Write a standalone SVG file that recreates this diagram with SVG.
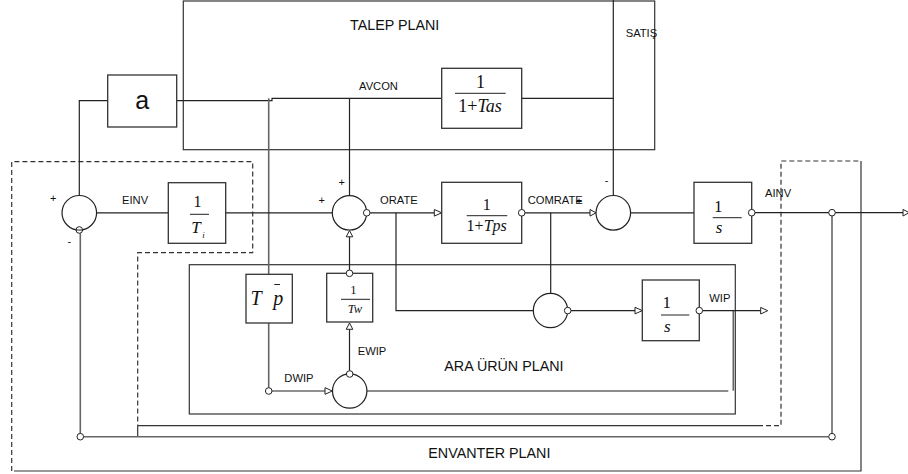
<svg xmlns="http://www.w3.org/2000/svg" width="908" height="474" viewBox="0 0 908 474">
<style>
.ln{fill:none;stroke:#222;stroke-width:1.2}
.gl{fill:none;stroke:#666;stroke-width:1.6}
.sl{fill:none;stroke:#333;stroke-width:1.2}
.dash{fill:none;stroke:#333;stroke-width:1.2;stroke-dasharray:5,3}
.box{fill:#fff;stroke:#333;stroke-width:1.3}
.sum{fill:#fff;stroke:#222;stroke-width:1.2}
.port{fill:#fff;stroke:#222;stroke-width:1}
.tri{fill:#fff;stroke:#222;stroke-width:1}
.frac{stroke:#222;stroke-width:1}
.lbl{font-family:"Liberation Sans",Arial,sans-serif;font-size:11.2px;fill:#111}
.sgn{font-family:"Liberation Sans",Arial,sans-serif;font-size:11px;fill:#111;text-anchor:middle}
.title{font-family:"Liberation Sans",Arial,sans-serif;font-size:14.3px;fill:#111}
.math{font-family:"Liberation Serif","Times New Roman",serif;fill:#111;text-anchor:middle}
.it{font-style:italic}
</style>

<g id="regions">
  <rect id="talep-plani" class="sl" x="183.3" y="1" width="471.4" height="148.7"/>
  <rect id="ara-urun-plani" class="sl" x="189.3" y="264.7" width="546" height="149.3"/>
  <g id="envanter-plani">
    <path class="dash" d="M11.7 471 V161.7 H252.7 V252.7 H137.7 V425.7"/>
    <path class="sl" d="M137.7 425.7 V436.7 M137.7 425.7 H758"/>
    <path class="dash" d="M758 425.7 H781 V161 H861"/>
    <path class="sl" d="M861 161 V471 H14"/>
  </g>
</g>

<g id="connectors">
  <path class="ln" d="M107.7 100.7 H79.3 V195.3"/>
  <path class="ln" d="M176.7 100.7 H272 V98.3 H441.7"/>
  <path class="ln" d="M521.7 98.3 H613.3"/>
  <path class="ln" d="M613.3 0 V195.3"/>
  <path class="ln" d="M349.5 98.3 V195.5"/>
  <path class="gl" d="M268.7 98.3 V274.3 M268.7 323 V387.7"/>
  <path class="ln" d="M96.7 212.8 H168.3"/>
  <path class="ln" d="M225.7 212.8 H332.3"/>
  <path class="ln" d="M370 212.8 H434.3"/>
  <path class="ln" d="M396 212.8 V310.6 H533.3"/>
  <path class="ln" d="M525 212.8 H590"/>
  <path class="ln" d="M550.7 212.8 V293.3"/>
  <path class="ln" d="M630.6 212.8 H694"/>
  <path class="ln" d="M755 212.7 H903"/>
  <path class="gl" d="M832 216 V433.3 M828.7 436.7 H83.6 M80.3 433.4 V233.3"/>
  <path class="ln" d="M349.5 236.8 V270"/>
  <path class="ln" d="M349.5 329.3 V370.7"/>
  <path class="ln" d="M272 391 H325"/>
  <path class="gl" d="M366.9 391 H728.3"/>
  <path class="gl" d="M733.3 310.7 V390.7"/>
  <path class="ln" d="M571 310.6 H635"/>
  <path class="ln" d="M702.6 310.6 H760.7"/>
  <polygon class="tri" points="434.3,209.5 441.7,212.8 434.3,216.1"/>
  <polygon class="tri" points="590,209.5 596,212.8 590,216.1"/>
  <polygon class="tri" points="635,307.3 642.3,310.6 635,313.9"/>
  <polygon class="tri" points="325,387.7 332.3,391 325,394.3"/>
  <polygon class="tri" points="760.7,307.4 767.7,310.7 760.7,314"/>
  <polygon class="tri" points="903,209.4 909,212.7 903,216"/>
  <polygon class="tri" points="346.2,236.8 349.5,230.5 352.8,236.8"/>
  <polygon class="tri" points="346.2,329.3 349.5,323 352.8,329.3"/>
  <circle class="port" cx="832" cy="212.7" r="3.3"/>
  <circle class="port" cx="832" cy="436.7" r="3.3"/>
  <circle class="port" cx="80.3" cy="436.7" r="3.3"/>
  <circle class="port" cx="268.7" cy="391" r="3.3"/>
</g>

<g id="sum-einv">
  <circle class="sum" cx="79.3" cy="212.8" r="17.3"/>
  <circle class="port" cx="79.3" cy="230" r="3.3"/>
  <line class="frac" x1="76" y1="230" x2="82.6" y2="230"/>
  <text class="sgn" x="53.3" y="201.5">+</text>
  <text class="sgn" x="69.3" y="245">-</text>
</g>
<g id="block-a">
  <rect class="box" x="107.7" y="75" width="69" height="52"/>
  <text class="lbl" x="142.3" y="109" style="font-size:25px" text-anchor="middle">a</text>
</g>
<g id="block-tas">
  <rect class="box" x="441.7" y="68.3" width="80" height="60"/>
  <text class="math" x="480.5" y="87.5" font-size="18">1</text>
  <line class="frac" x1="455" y1="93.3" x2="505.7" y2="93.3"/>
  <text class="math" x="480" y="112" font-size="18">1+<tspan class="it">Tas</tspan></text>
</g>
<g id="block-ti">
  <rect class="box" x="168.3" y="182.7" width="57.4" height="60.6"/>
  <text class="math" x="197.5" y="207" font-size="16">1</text>
  <line class="frac" x1="190" y1="214.3" x2="209" y2="214.3"/>
  <text class="math it" x="196" y="233" font-size="17">T</text>
  <text class="math it" x="203.5" y="237.5" font-size="9">i</text>
</g>
<g id="sum-orate">
  <circle class="sum" cx="349.5" cy="212.8" r="17.2"/>
  <circle class="port" cx="366.7" cy="212.8" r="3.3"/>
  <text class="sgn" x="341.7" y="186">+</text>
  <text class="sgn" x="321.7" y="203.7">+</text>
</g>
<g id="block-tps">
  <rect class="box" x="441.7" y="182.3" width="80" height="61"/>
  <text class="math" x="486.7" y="210" font-size="16">1</text>
  <line class="frac" x1="466.7" y1="215.7" x2="507.3" y2="215.7"/>
  <text class="math" x="486.7" y="231" font-size="16">1+<tspan class="it">Tps</tspan></text>
  <circle class="port" cx="521.7" cy="212.8" r="3.3"/>
</g>
<g id="sum-comrate">
  <circle class="sum" cx="613.3" cy="212.8" r="17.3"/>
  <text class="sgn" x="606.7" y="183.5">-</text>
</g>
<g id="block-s-ainv">
  <rect class="box" x="694" y="182.3" width="57.7" height="61"/>
  <text class="math" x="718.3" y="211.7" font-size="17">1</text>
  <line class="frac" x1="712.7" y1="217.7" x2="741.7" y2="217.7"/>
  <text class="math it" x="719" y="233" font-size="17">s</text>
  <circle class="port" cx="751.7" cy="212.7" r="3.3"/>
</g>
<g id="block-tp">
  <rect class="box" x="246" y="274.3" width="46.3" height="48.7"/>
  <text class="math it" x="256" y="304.5" font-size="20">T</text>
  <text class="math it" x="278.3" y="304.5" font-size="20">p</text>
  <line class="frac" x1="274.3" y1="284.5" x2="280" y2="284.5"/>
</g>
<g id="block-tw">
  <rect class="box" x="326.7" y="273.3" width="46" height="48.7"/>
  <text class="math" x="353.3" y="294.3" font-size="12.5">1</text>
  <line class="frac" x1="341" y1="299.3" x2="370" y2="299.3"/>
  <text class="math it" x="355" y="313.3" font-size="12.5">Tw</text>
  <circle class="port" cx="349.5" cy="273.3" r="3.3"/>
</g>
<g id="sum-dwip">
  <circle class="sum" cx="349.7" cy="391" r="17.2"/>
  <circle class="port" cx="349.7" cy="374" r="3.3"/>
</g>
<g id="sum-wip">
  <circle class="sum" cx="550.5" cy="310.5" r="17.2"/>
  <circle class="port" cx="567.7" cy="310.6" r="3.3"/>
</g>
<g id="block-s-wip">
  <rect class="box" x="642.3" y="280" width="57" height="60.7"/>
  <text class="math" x="666.7" y="307.7" font-size="17">1</text>
  <line class="frac" x1="661" y1="315" x2="689.3" y2="315"/>
  <text class="math it" x="667.3" y="331.7" font-size="17">s</text>
  <circle class="port" cx="699.3" cy="310.6" r="3.3"/>
</g>

<g id="labels">
  <text class="title" x="350" y="30">TALEP PLANI</text>
  <text class="lbl" x="625.7" y="36.5">SATIŞ</text>
  <text class="lbl" x="359" y="90">AVCON</text>
  <text class="lbl" x="122" y="204">EINV</text>
  <text class="lbl" x="380" y="204">ORATE</text>
  <text class="lbl" x="527.7" y="204">COMRATE</text>
  <text class="sgn" x="579" y="204.5">+</text>
  <text class="lbl" x="765" y="196.7">AINV</text>
  <text class="lbl" x="709.3" y="302.3">WIP</text>
  <text class="lbl" x="357.7" y="355">EWIP</text>
  <text class="lbl" x="284.3" y="381.7">DWIP</text>
  <text class="title" x="444.3" y="370.7">ARA ÜRÜN PLANI</text>
  <text class="title" x="428.3" y="457.7">ENVANTER PLANI</text>
</g>
</svg>
